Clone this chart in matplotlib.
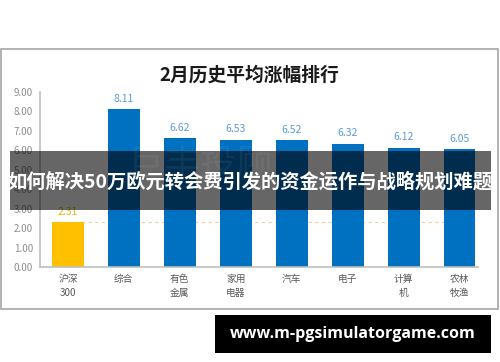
import numpy as np
import matplotlib.pyplot as plt
from matplotlib.patches import Rectangle

plt.rcParams['font.family'] = ['Noto Sans CJK SC', 'DejaVu Sans']

# data
categories = ['沪深\n300', '综合', '有色\n金属', '家用\n电器', '汽车', '电子', '计算\n机', '农林\n牧渔']
values = [2.31, 8.11, 6.62, 6.53, 6.52, 6.32, 6.12, 6.05]
bar_colors = ['#FFC000'] + ['#0070C0'] * 7
label_colors = ['#F0B400'] + ['#5B9BD5'] * 7
yticks = [0, 1, 2, 3, 4, 5, 6, 7, 8, 9]
title = '2月历史平均涨幅排行'
banner = '如何解决50万欧元转会费引发的资金运作与战略规划难题'
site = 'www.m-pgsimulatorgame.com'

fig = plt.figure(figsize=(5, 3.62), dpi=100)
fig.patch.set_facecolor('white')

# outer chart frame
fig.patches.append(Rectangle((0.002, 1 - 309 / 362), 0.994, 260 / 362, transform=fig.transFigure,
                             fill=False, edgecolor='#A6A6A6', linewidth=1.2))

ax = fig.add_axes([0.08, 0.2616, 0.876, 0.485])
x = np.arange(len(categories))
ax.bar(x, values, width=0.57, color=bar_colors, zorder=2)
for xi, v, c in zip(x, values, label_colors):
    ax.annotate('%.2f' % v, (xi, v), xytext=(0, 4), textcoords='offset points',
                ha='center', va='bottom', color=c, fontsize=7.5)

# reference line at index level
ax.plot([x[0], x[-1]], [values[0], values[0]], linestyle=(0, (3, 3)), color='#E3D2A4',
        linewidth=0.8, zorder=1)

ax.set_xlim(-0.5, 7.33)
ax.set_ylim(0, 9)
ax.set_yticks(yticks)
ax.set_yticklabels(['%.2f' % t for t in yticks], color='#8C8C8C', fontsize=7)
ax.set_xticks(x)
ax.set_xticklabels(categories, color='#595959', fontsize=7, linespacing=1.5)
ax.tick_params(length=0, pad=5)
for s in ['top', 'right']:
    ax.spines[s].set_visible(False)
ax.spines['left'].set_color('#BFBFBF')
ax.spines['bottom'].set_color('#BFBFBF')
ax.spines['left'].set_linewidth(1.2)
ax.spines['bottom'].set_linewidth(1.2)

fig.text(0.498, 0.793, title, ha='center', va='center', fontsize=13.5, fontweight='bold', color='#1a1a1a')

# overlay banner
fig.patches.append(Rectangle((0.02, 1 - 210 / 362), 0.962, 59 / 362, transform=fig.transFigure,
                             facecolor='black', alpha=0.6, edgecolor='none', zorder=5))
fig.text(0.4, 0.545, '巨丰投顾', ha='center', va='center', fontsize=26, color='white',
         alpha=0.06, zorder=6)
fig.text(0.5, 0.497, banner, ha='center', va='center', fontsize=13.9, fontweight='bold',
         color='white', zorder=7)

# site box
fig.patches.append(Rectangle((0.43, 1 - 353 / 362), 0.552, 38 / 362, transform=fig.transFigure,
                             facecolor='black', edgecolor='none', zorder=5))
fig.text(0.706, 0.077, site, ha='center', va='center', fontsize=11.5, fontweight='bold',
         color='white', family=['Open Sans', 'DejaVu Sans'], zorder=7)

fig.savefig('out.png', dpi=100)
